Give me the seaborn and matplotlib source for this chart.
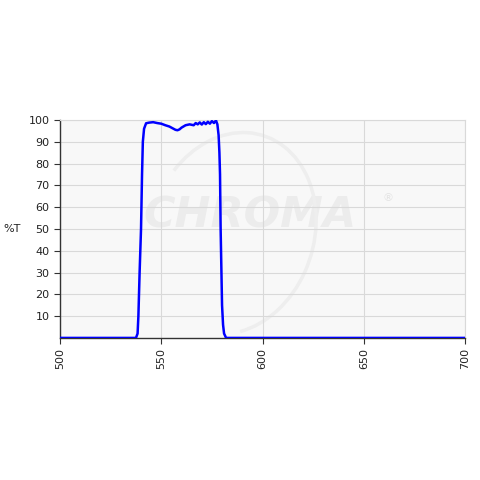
import pandas as pd
import matplotlib.pyplot as plt
import seaborn as sns
from matplotlib.patches import Arc

# Transmission curve (wavelength in nm, %T)
wavelength = [500, 537.5, 538.3, 538.7, 539.3, 540.0, 540.5, 540.9, 541.5, 542.5,
              544, 546, 548, 550, 552, 554, 556, 557, 558, 559, 560, 562, 564,
              566, 567, 568, 569, 570, 571, 572, 573, 574, 575, 576, 577,
              577.7, 578.3, 578.7, 579.0, 579.3, 579.7, 580.0, 580.5, 581, 582, 700]
transmission = [0, 0, 2, 10, 30, 50, 75, 90, 96, 98.5,
                98.8, 99, 98.6, 98.3, 97.6, 97, 96, 95.5, 95.3, 95.7, 96.5, 97.6, 98,
                97.6, 98.6, 98, 98.9, 97.9, 99, 98.1, 99.2, 98.3, 99.5, 98.6, 99.8,
                98, 93, 85, 75, 50, 30, 15, 6, 2, 0, 0]
x_ticks = [500, 550, 600, 650, 700]
y_ticks = [10, 20, 30, 40, 50, 60, 70, 80, 90, 100]

df = pd.DataFrame({"nm": wavelength, "T": transmission})

sns.set_style("white")
plt.rcParams["font.family"] = ["DejaVu Sans"]

fig = plt.figure(figsize=(4.8, 4.8), dpi=100)
ax = fig.add_axes([0.125, 0.296, 0.844, 0.454])
ax.set_facecolor("#f8f8f8")

# faint watermark behind the data
ax.text(594, 56, "CHROMA", fontsize=31, fontweight="bold", fontstyle="italic",
        color="#ececec", ha="center", va="center", zorder=0)
ax.text(662, 64, "®", fontsize=8, color="#e4e4e4", ha="center", va="center", zorder=0)
ax.add_patch(Arc((585, 48), 80, 95, angle=-25, theta1=-60, theta2=160,
                 color="#eeeeee", lw=2.5, zorder=0))

sns.lineplot(data=df, x="nm", y="T", color="#0000ff", linewidth=1.8, ax=ax, zorder=3)

ax.set_xlim(500, 700)
ax.set_ylim(0, 100)
ax.set_xticks(x_ticks)
ax.set_yticks(y_ticks)
ax.set_xticklabels([str(v) for v in x_ticks], rotation=90, fontsize=8, color="#222222")
ax.set_yticklabels([str(v) for v in y_ticks], fontsize=8, color="#222222")
ax.grid(True, color="#d9d9d9", linewidth=0.8)
ax.set_axisbelow(True)
ax.tick_params(axis="both", length=4, width=0.8, color="#333333", direction="out",
               bottom=True, left=True)
ax.set_xlabel("")
ax.set_ylabel("%T", rotation=0, fontsize=8, color="#222222", labelpad=12, va="center")

for side in ["top", "right"]:
    ax.spines[side].set_color("#d9d9d9")
for side in ["left", "bottom"]:
    ax.spines[side].set_color("#333333")
    ax.spines[side].set_linewidth(1)

fig.savefig("out.png", dpi=100)
